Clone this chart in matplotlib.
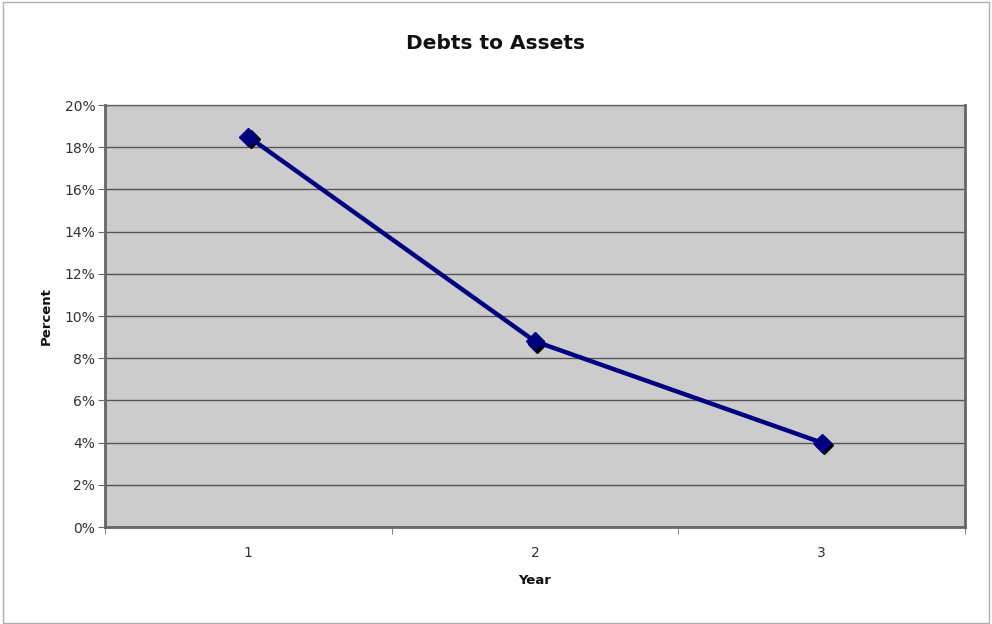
import matplotlib
matplotlib.use("Agg")
import matplotlib.pyplot as plt
import matplotlib.transforms as mtransforms
from matplotlib.ticker import FixedLocator, PercentFormatter

# data
years = [1, 2, 3]
year_labels = ["1", "2", "3"]
debt_ratio = [18.5, 8.8, 4.0]  # percent

fig = plt.figure(figsize=(9.92, 6.24), dpi=100)
ax = fig.add_axes([0.1058, 0.1554, 0.867, 0.6763])
ax.set_facecolor("#cccccc")

# figure border
fig.patches.append(plt.Rectangle((0.003, 0.002), 0.994, 0.994, transform=fig.transFigure,
                                 fill=False, edgecolor="#b0b0b0", linewidth=1))

# marker shadow
shadow = mtransforms.offset_copy(ax.transData, fig=fig, x=2.5, y=-2.5, units="dots")
ax.plot(years, debt_ratio, linestyle="none", marker="D", markersize=9.5,
        color="black", transform=shadow, zorder=3)
ax.plot(years, debt_ratio, color="#000080", linewidth=3.2, marker="D",
        markersize=9.5, markerfacecolor="#000080", markeredgecolor="#000080", zorder=4)

ax.set_xlim(0.5, 3.5)
ax.set_ylim(0, 20)
ax.set_yticks(range(0, 21, 2))
ax.yaxis.set_major_formatter(PercentFormatter(decimals=0))
ax.set_xticks(years)
ax.set_xticklabels(year_labels)
ax.xaxis.set_minor_locator(FixedLocator([0.5, 1.5, 2.5, 3.5]))
ax.tick_params(axis="x", which="major", length=0, pad=14, labelsize=10, labelcolor="#333333")
ax.tick_params(axis="x", which="minor", length=5, color="#666666", direction="out")
ax.tick_params(axis="y", length=5, color="#666666", labelsize=10, pad=2, labelcolor="#333333")

ax.grid(axis="y", color="#555555", linewidth=1)
ax.set_axisbelow(True)
for side in ["left", "bottom", "right"]:
    ax.spines[side].set_color("#666666")
    ax.spines[side].set_linewidth(2)
ax.spines["top"].set_color("#666666")
ax.spines["top"].set_linewidth(1)

fig.text(0.5, 0.93, "Debts to Assets", ha="center", va="center",
         fontsize=14.5, fontweight="bold", color="#111111")
ax.set_xlabel("Year", fontsize=9.5, fontweight="bold", labelpad=10, color="#111111")
ax.set_ylabel("Percent", fontsize=9.5, fontweight="bold", labelpad=8, color="#111111")

fig.savefig("out.png", dpi=100)
